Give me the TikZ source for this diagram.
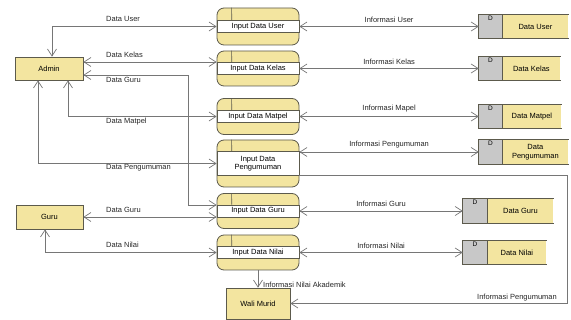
\documentclass[tikz,border=0pt]{standalone}
\usepackage{fontspec}
\setmainfont{Liberation Sans}
\usetikzlibrary{arrows.meta,positioning}
\definecolor{dfdyellow}{HTML}{F3E5A0}
\definecolor{dfdgray}{HTML}{C8C8C8}
\definecolor{dfdline}{HTML}{767676}
\definecolor{dfdedge}{HTML}{5C5A4C}

\begin{document}
\begin{tikzpicture}[x=1pt, y=-1pt, font=\fontsize{7.5}{8.5}\selectfont,
	>={Straight Barb[length=7pt,width=9pt]},
	entity/.style = {draw=dfdedge, fill=dfdyellow, line width=0.7pt, inner sep=0pt},
	proc/.style = {draw=dfdedge, fill=dfdyellow, rounded corners=7pt, line width=0.8pt, minimum width=82pt, inner sep=0pt},
	band/.style = {draw=dfdedge, fill=white, line width=0.6pt, minimum width=82pt, minimum height=12pt, inner sep=0pt, align=center},
	storeid/.style = {fill=dfdgray, minimum height=24pt, inner sep=0pt},
	store/.style = {fill=dfdyellow, minimum height=24pt, inner sep=0pt, anchor=west, align=center},
	sid/.style = {font=\fontsize{6.5}{7}\selectfont, anchor=north, inner sep=1.5pt},
	border/.style = {draw=dfdedge, line width=0.7pt},
	lbl/.style = {inner sep=1pt, text=black!85},
	flow/.style = {draw=dfdline, line width=0.7pt}]

	\useasboundingbox (0,0) rectangle (571,320);

	% external entities
	\node[entity, minimum width=68pt, minimum height=23pt] (admin) at (49,68.5) {Admin};
	\node[entity, minimum width=67pt, minimum height=24pt] (guru) at (49.5,217) {Guru};
	\node[entity, minimum width=64pt, minimum height=31pt] (wali) at (258,303.5) {Wali Murid};

	% processes
	\node[proc, minimum height=37pt] (pUser) at (258,26.5) {};
	\node[band] (bUser) at (pUser.center) {Input Data User};
	\draw[border] ([xshift=15pt]pUser.north west) -- ([xshift=15pt]bUser.north west);

	\node[proc, minimum height=35pt] (pKelas) at (258,68.5) {};
	\node[band] (bKelas) at (pKelas.center) {Input Data Kelas};
	\draw[border] ([xshift=15pt]pKelas.north west) -- ([xshift=15pt]bKelas.north west);

	\node[proc, minimum height=36pt] (pMatpel) at (258,116.5) {};
	\node[band] (bMatpel) at (pMatpel.center) {Input Data Matpel};
	\draw[border] ([xshift=15pt]pMatpel.north west) -- ([xshift=15pt]bMatpel.north west);

	\node[proc, minimum height=47pt] (pPeng) at (258,163.5) {};
	\node[band, minimum height=24pt] (bPeng) at (pPeng.center) {Input Data\\Pengumuman};
	\draw[border] ([xshift=15pt]pPeng.north west) -- ([xshift=15pt]bPeng.north west);

	\node[proc, minimum height=35pt] (pGuru) at (258,211) {};
	\node[band] (bGuru) at (pGuru.center) {Input Data Guru};
	\draw[border] ([xshift=15pt]pGuru.north west) -- ([xshift=15pt]bGuru.north west);

	\node[proc, minimum height=35pt] (pNilai) at (258,252.5) {};
	\node[band] (bNilai) at (pNilai.center) {Input Data Nilai};
	\draw[border] ([xshift=15pt]pNilai.north west) -- ([xshift=15pt]bNilai.north west);

	% data stores
	\node[storeid, minimum width=23pt] (dUser) at (490.5,26.5) {};
	\node[store, minimum width=66pt] (sUser) at (dUser.east) {Data User};
	\node[sid] (iUser) at (dUser.north) {D};
	\draw[border] (sUser.north east) -- (dUser.north west) -- (dUser.south west) -- (sUser.south east)
		(dUser.north east) -- (dUser.south east);

	\node[storeid, minimum width=23pt] (dKelas) at (490.5,68.5) {};
	\node[store, minimum width=58pt] (sKelas) at (dKelas.east) {Data Kelas};
	\node[sid] (iKelas) at (dKelas.north) {D};
	\draw[border] (sKelas.north east) -- (dKelas.north west) -- (dKelas.south west) -- (sKelas.south east)
		(dKelas.north east) -- (dKelas.south east);

	\node[storeid, minimum width=23pt] (dMatpel) at (490.5,116.5) {};
	\node[store, minimum width=59pt] (sMatpel) at (dMatpel.east) {Data Matpel};
	\node[sid] (iMatpel) at (dMatpel.north) {D};
	\draw[border] (sMatpel.north east) -- (dMatpel.north west) -- (dMatpel.south west) -- (sMatpel.south east)
		(dMatpel.north east) -- (dMatpel.south east);

	\node[storeid, minimum width=23pt] (dPeng) at (490.5,152) {};
	\node[store, minimum width=66pt] (sPeng) at (dPeng.east) {Data\\Pengumuman};
	\node[sid] (iPeng) at (dPeng.north) {D};
	\draw[border] (sPeng.north east) -- (dPeng.north west) -- (dPeng.south west) -- (sPeng.south east)
		(dPeng.north east) -- (dPeng.south east);

	\node[storeid, minimum width=24pt] (dGuru) at (475,211) {};
	\node[store, minimum width=66pt] (sGuru) at (dGuru.east) {Data Guru};
	\node[sid] (iGuru) at (dGuru.north) {D};
	\draw[border] (sGuru.north east) -- (dGuru.north west) -- (dGuru.south west) -- (sGuru.south east)
		(dGuru.north east) -- (dGuru.south east);

	\node[storeid, minimum width=24pt] (dNilai) at (475,252.5) {};
	\node[store, minimum width=59pt] (sNilai) at (dNilai.east) {Data Nilai};
	\node[sid] (iNilai) at (dNilai.north) {D};
	\draw[border] (sNilai.north east) -- (dNilai.north west) -- (dNilai.south west) -- (sNilai.south east)
		(dNilai.north east) -- (dNilai.south east);

	% corners of the long connectors
	\coordinate (cGuru) at (188,75);
	\coordinate (cPeng) at (567,175.5);

	% flows of the entities
	\path[flow, <->] ([xshift=3pt]admin.north) |- (pUser.west);
	\path[flow, <->] ([yshift=6.5pt]admin.east) -- ([yshift=6.5pt]pKelas.west);
	\path[flow, <->] ([yshift=-6.5pt]admin.east) -- (cGuru) |- ([yshift=6pt]pGuru.west);
	\path[flow, <->] ([xshift=19pt]admin.south) |- (pMatpel.west);
	\path[flow, <->] ([xshift=-11pt]admin.south) |- (pPeng.west);
	\path[flow, <->] (guru.east) -- ([yshift=-6pt]pGuru.west);
	\path[flow, <->] ([xshift=-4.5pt]guru.south) |- (pNilai.west);

	\node[lbl, anchor=west] (lUser) at (105,19) {Data User};
	\node[lbl, anchor=west] (lKelas) at (105,55) {Data Kelas};
	\node[lbl, anchor=west] (lGuruA) at (105,80) {Data Guru};
	\node[lbl, anchor=west] (lMatpel) at (105,122) {Data Matpel};
	\node[lbl, anchor=west] (lPeng) at (105,168) {Data Pengumuman};
	\node[lbl, anchor=west] (lGuruB) at (105,210) {Data Guru};
	\node[lbl, anchor=west] (lNilai) at (105,245) {Data Nilai};

	% flows of the stores
	\path[flow, <->] (pUser.east) -- node[lbl, above=3pt] {Informasi User} (dUser.west);
	\path[flow, <->] (pKelas.east) -- node[lbl, above=3pt] {Informasi Kelas} (dKelas.west);
	\path[flow, <->] (pMatpel.east) -- node[lbl, above=3pt] {Informasi Mapel} (dMatpel.west);
	\path[flow, <->] (dPeng.west -| pPeng.east) -- node[lbl, above=3pt] {Informasi Pengumuman} (dPeng.west);
	\path[flow, <->] (pGuru.east) -- node[lbl, above=3pt] {Informasi Guru} (dGuru.west);
	\path[flow, <->] (pNilai.east) -- node[lbl, above=3pt] {Informasi Nilai} (dNilai.west);

	% flows to Wali Murid
	\path[flow, ->] (pNilai.south) -- (wali.north);
	\path[flow, ->] ([yshift=-12pt]pPeng.east) -- (cPeng) |- (wali.east);
	\node[lbl, anchor=west] (lAkad) at (262,285) {Informasi Nilai Akademik};
	\node[lbl, anchor=east] (lInfo) at (558,298) {Informasi Pengumuman};

\end{tikzpicture}
\end{document}
